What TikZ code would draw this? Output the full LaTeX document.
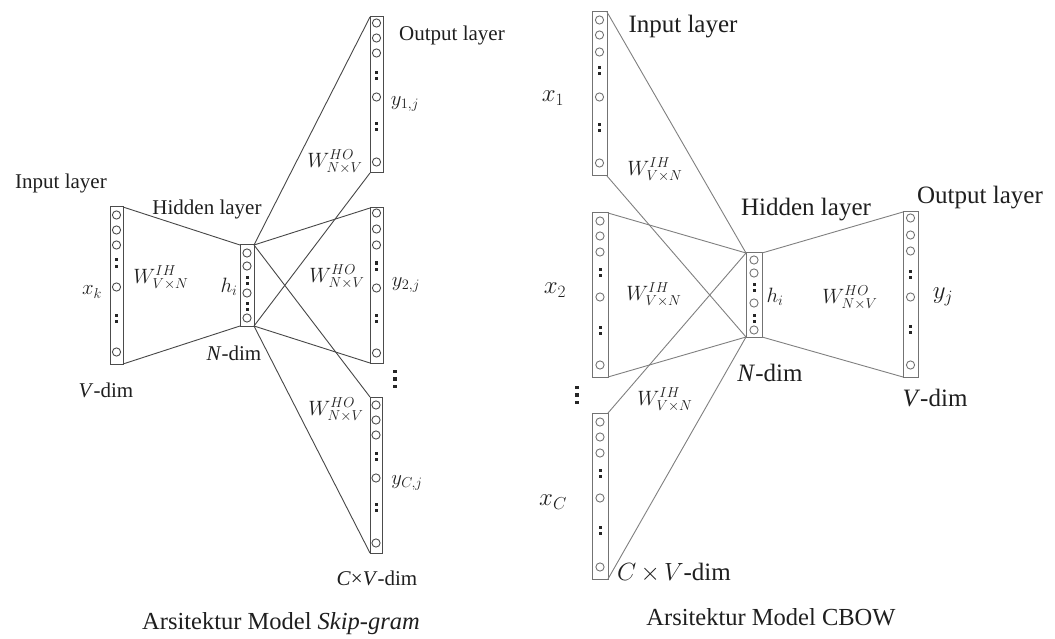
\documentclass[tikz,border=0pt]{standalone}
\usepackage{fontspec}
\setmainfont{Liberation Serif}
\tikzset{
  barbox/.style={draw, line width=1pt, fill=white, inner sep=0pt, outer sep=0pt},
  circ/.style={line width=0.9pt, fill=white},
  lline/.style={draw=black!72, line width=0.9pt},
  rline/.style={draw=black!50, line width=0.9pt},
  lt/.style={inner sep=0pt, text=black!88, font=\fontsize{21}{25}\selectfont},
  wt/.style={inner sep=0pt, text=black!88, font=\fontsize{19.5}{23}\selectfont},
  rt/.style={inner sep=0pt, text=black!88, font=\fontsize{25}{29}\selectfont},
  captext/.style={inner sep=0pt, text=black!88, font=\fontsize{24.5}{29}\selectfont},
}
% #1 name, #2 centre x, #3 top, #4 bottom, #5 width, #6 circle ys, #7 dot-pair ys, #8 colour
\newcommand\drawlayer[8]{%
  \node[barbox, draw=#8, minimum width=#5pt, minimum height={(#4)-(#3)}] (#1) at (#2,{((#3)+(#4))/2}) {};
  \foreach \cy in {#6} {\draw[circ, draw=#8] (#2,\cy) circle (4.1pt);}
  \foreach \dy in {#7} {%
    \fill[black!85] ({#2-1.5},{\dy-4.5}) rectangle ({#2+1.5},{\dy-1.5});
    \fill[black!85] ({#2-1.5},{\dy+1.5}) rectangle ({#2+1.5},{\dy+4.5});}
}
\newcommand\vdotsat[2]{%
  \foreach \k in {-7.5,0,7.5} {\fill[black!85] ({#1-1.6},{#2+\k-1.6}) rectangle ({#1+1.6},{#2+\k+1.6});}
}
\begin{document}
\begin{tikzpicture}[x=1pt, y=-1pt]
\useasboundingbox[fill=white] (0,0) rectangle (1055,639);

% ================= Skip-gram (left) =================
\drawlayer{lin}{116.5}{207}{364}{13}{215,230,245,287,352}{263,318}{black!70}
\drawlayer{lhid}{247}{245}{326}{14}{253,266,293,318}{280,306}{black!70}
\drawlayer{lo1}{376.5}{17}{173}{13}{23,38,53,97,162}{76,127}{black!70}
\drawlayer{lo2}{376.5}{208}{363}{13}{213,229,245,288,353}{266,318}{black!70}
\drawlayer{lo3}{376}{397}{553}{12}{405,420,435,478,543}{456,507}{black!70}

\draw[lline] (lin.north east) -- (lhid.north west);
\draw[lline] (lin.south east) -- (lhid.south west);
\draw[lline] (lhid.north east) -- (lo1.north west);
\draw[lline] (lhid.south east) -- (lo1.south west);
\draw[lline] (lhid.north east) -- (lo2.north west);
\draw[lline] (lhid.south east) -- (lo2.south west);
\draw[lline] (lhid.north east) -- (lo3.north west);
\draw[lline] (lhid.south east) -- (lo3.south west);

\node[lt] (tinL) at (61,183) {Input layer};
\node[lt] (thidL) at (207,209) {Hidden layer};
\node[lt] (toutL) at (452,35) {Output layer};
\node[lt] (xk) at (92,292) {$x_k$};
\node[wt] (wihL) at (161,278) {$W^{IH}_{V\times N}$};
\node[lt] (hiL) at (229,287) {$h_i$};
\node[lt] (ndL) at (234,353) {\textit{N}-dim};
\node[lt] (vdL) at (106,390) {\textit{V}-dim};
\node[lt] (y1) at (405,104) {$y_{1,j}$};
\node[wt] (who1) at (335,162) {$W^{HO}_{N\times V}$};
\node[wt] (who2) at (337,277) {$W^{HO}_{N\times V}$};
\node[lt] (y2) at (406,285) {$y_{2,j}$};
\vdotsat{395}{379}
\node[wt] (who3) at (336,410) {$W^{HO}_{N\times V}$};
\node[lt] (yc) at (407,483) {$y_{C,j}$};
\node[lt] (cvdL) at (377,578) {\textit{C}×\textit{V}-dim};
\node[captext] (cap1) at (281,624) {Arsitektur Model \textit{Skip-gram}};

% ================= CBOW (right) =================
\drawlayer{ri1}{599.5}{12}{176}{15}{20,35,52,97,163}{71,128}{black!55}
\drawlayer{ri2}{600}{213}{377}{16}{221,236,252,297,365}{272,330}{black!55}
\drawlayer{ri3}{600}{413}{579}{16}{422,437,453,498,567}{473,530}{black!55}
\drawlayer{rhid}{754}{253}{337}{16}{260,273,303,330}{287,318}{black!55}
\drawlayer{rout}{910.5}{212}{377}{15}{218,235,251,297,365}{274,329}{black!55}

\draw[rline] (ri1.north east) -- (rhid.north west);
\draw[rline] (ri1.south east) -- (rhid.south west);
\draw[rline] (ri2.north east) -- (rhid.north west);
\draw[rline] (ri2.south east) -- (rhid.south west);
\draw[rline] (ri3.north east) -- (rhid.north west);
\draw[rline] (ri3.south east) -- (rhid.south west);
\draw[rline] (rhid.north east) -- (rout.north west);
\draw[rline] (rhid.south east) -- (rout.south west);

\node[rt] (tinR) at (683,27) {Input layer};
\node[rt] (x1) at (553,98) {$x_1$};
\node[wt] (wih1) at (655,170) {$W^{IH}_{V\times N}$};
\node[rt] (x2) at (555,290) {$x_2$};
\node[wt] (wih2) at (654,295) {$W^{IH}_{V\times N}$};
\node[rt] (thidR) at (806,210) {Hidden layer};
\node[lt] (hiR) at (775,297) {$h_i$};
\node[rt] (ndR) at (770,373) {\textit{N}-dim};
\vdotsat{577}{395}
\node[wt] (wih3) at (665,400) {$W^{IH}_{V\times N}$};
\node[rt] (xc) at (553,502) {$x_C$};
\node[rt] (cvdR) at (674,573) {$C{\,\times\,}V$-dim};
\node[rt] (toutR) at (980,198) {Output layer};
\node[wt] (whoR) at (850,298) {$W^{HO}_{N\times V}$};
\node[rt] (yj) at (943,297) {$y_j$};
\node[rt] (vdR) at (935,398) {\textit{V}-dim};
\node[captext] (cap2) at (771,617) {Arsitektur Model CBOW};
\end{tikzpicture}
\end{document}
